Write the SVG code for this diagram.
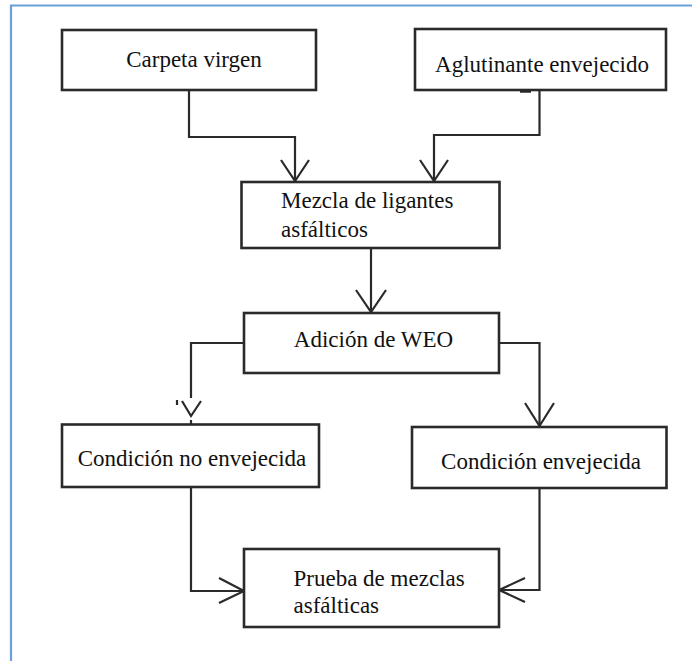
<svg xmlns="http://www.w3.org/2000/svg" width="692" height="661" viewBox="0 0 692 661">
<style>
.box{fill:#fff;stroke:#2a2a2a;stroke-width:2.6}
.t{font-family:"Liberation Serif","Times New Roman",serif;font-size:23px;fill:#111}
.c{text-anchor:middle}
.ln{fill:none;stroke:#2a2a2a;stroke-width:2.2}
.frame{fill:none;stroke:#6a9fd8;stroke-width:2.2}
</style>
<rect width="692" height="661" fill="#fff"/>
<path class="frame" d="M11,661 V5.5 H692"/>
<g id="connectors">
<path class="ln" d="M189,90 V137 H295 V181"/>
<path class="ln" d="M281,160 L295,181 L309,160"/>
<path class="ln" d="M539.5,91 V135 H434 V181"/>
<path class="ln" d="M420,160 L434,181 L448,160"/>
<path d="M520,91.5 H531" stroke="#2a2a2a" stroke-width="2.5"/>
<path class="ln" d="M371,248 V312"/>
<path class="ln" d="M356,290 L371,312 L386,290"/>
<path class="ln" d="M244,343 H191 V398"/>
<path class="ln" d="M182,401 L191,416 L201,401"/>
<path class="ln" d="M177,400 V405" stroke-width="1.2"/>
<path class="ln" d="M191,420 V424"/>
<path class="ln" d="M499,343 H539.5 V427"/>
<path class="ln" d="M525,403 L539.5,426 L554,403"/>
<path class="ln" d="M191,488 V591 H244"/>
<path class="ln" d="M219,578 L244,591 L219,603"/>
<path class="ln" d="M539.5,489 V590 H499"/>
<path class="ln" d="M525,578 L499,590 L525,602"/>
</g>
<g id="carpeta">
<rect class="box" x="62" y="30" width="254" height="60"/>
<text class="t c" x="194" y="67">Carpeta virgen</text>
</g>
<g id="aglutinante">
<rect class="box" x="415" y="29" width="251" height="61"/>
<text class="t c" x="542" y="72">Aglutinante envejecido</text>
</g>
<g id="mezcla">
<rect class="box" x="241.5" y="182" width="258" height="66"/>
<text class="t" x="281" y="208">Mezcla de ligantes</text>
<text class="t" x="281" y="237">asfálticos</text>
</g>
<g id="adicion">
<rect class="box" x="244" y="313" width="255" height="60"/>
<text class="t c" x="373.5" y="347">Adición de WEO</text>
</g>
<g id="no-envejecida">
<rect class="box" x="62" y="424.5" width="257" height="62.5"/>
<text class="t c" x="192" y="466">Condición no envejecida</text>
</g>
<g id="envejecida">
<rect class="box" x="412" y="427" width="254.5" height="61"/>
<text class="t c" x="541" y="468.5">Condición envejecida</text>
</g>
<g id="prueba">
<rect class="box" x="244" y="549" width="255" height="78"/>
<text class="t" x="293.5" y="585.5">Prueba de mezclas</text>
<text class="t" x="293.5" y="613">asfálticas</text>
</g>
</svg>
